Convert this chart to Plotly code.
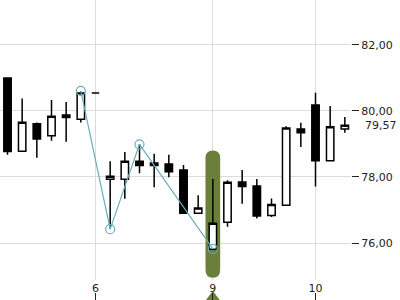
import plotly.graph_objects as go

idx = list(range(24))
opens  = [81.00, 78.78, 79.61, 79.25, 79.80, 79.75, 80.54, 77.93, 77.93, 78.48, 78.35, 78.39,
          78.21, 76.90, 75.81, 76.63, 77.85, 77.73, 76.83, 77.14, 79.45, 80.18, 78.49, 79.45]
highs  = [81.00, 80.38, 79.65, 80.33, 80.27, 80.59, 80.54, 78.48, 78.76, 79.00, 78.70, 78.67,
          78.36, 77.45, 77.94, 77.90, 78.21, 77.94, 77.35, 79.54, 79.64, 80.55, 80.15, 79.82]
lows   = [78.67, 78.78, 78.58, 79.10, 79.07, 79.65, 80.54, 76.43, 77.34, 78.11, 77.69, 77.99,
          76.90, 76.90, 75.81, 76.49, 77.19, 76.74, 76.79, 77.14, 78.91, 77.71, 78.48, 79.34]
closes = [78.77, 79.66, 79.15, 79.84, 79.88, 80.54, 80.54, 78.02, 78.48, 78.35, 78.42, 78.16,
          76.90, 77.06, 76.60, 77.84, 77.71, 76.82, 77.17, 79.48, 79.34, 78.49, 79.52, 79.57]

tick_idx = [6, 14, 21]
tick_text = ["6", "9", "10"]
y_ticks = [76, 78, 80, 82]

zz_idx = [5, 7, 9, 14]
zz_val = [80.61, 76.42, 78.99, 75.82]

hl_idx = 14
hl_pad = 0.86
last_val = closes[-1]

OLIVE = "#6B7F3A"
TEAL = "#6AAFB8"
GRID = "#DCDCDC"

fig = go.Figure()

fig.add_trace(go.Scatter(
    x=zz_idx, y=zz_val, mode="lines+markers",
    line=dict(color=TEAL, width=1.2),
    marker=dict(symbol="circle-open", size=9, color=TEAL, line=dict(width=1.2)),
    showlegend=False, hoverinfo="skip"))

fig.add_trace(go.Candlestick(
    x=idx, open=opens, high=highs, low=lows, close=closes,
    increasing=dict(fillcolor="white", line=dict(color="black", width=1.5)),
    decreasing=dict(fillcolor="black", line=dict(color="black", width=1.5)),
    showlegend=False))

# marker under the highlighted label
fig.add_trace(go.Scatter(
    x=[hl_idx], y=[0], xaxis="x2", yaxis="y2", mode="markers",
    marker=dict(symbol="triangle-up", size=18, color=OLIVE),
    cliponaxis=False, showlegend=False, hoverinfo="skip"))

# rounded highlight around candle
x0, x1 = hl_idx - 0.5, hl_idx + 0.5
y0, y1 = lows[hl_idx] - hl_pad, highs[hl_idx] + hl_pad
ry = 0.23
xc = hl_idx
path = (f"M {x0},{y0+ry} L {x0},{y1-ry} Q {x0},{y1} {xc},{y1} Q {x1},{y1} {x1},{y1-ry} "
        f"L {x1},{y0+ry} Q {x1},{y0} {xc},{y0} Q {x0},{y0} {x0},{y0+ry} Z")
fig.add_shape(type="path", path=path, xref="x", yref="y", fillcolor=OLIVE,
              line=dict(width=0), layer="between")

fig.add_annotation(x=1, y=last_val, xref="paper", yref="y",
                   text=f"{last_val:.2f}".replace(".", ","),
                   showarrow=False, xanchor="left", yanchor="middle", xshift=12,
                   font=dict(family="DejaVu Sans", size=11, color="#222"))

fig.update_layout(
    width=400, height=300,
    margin=dict(l=0, r=49, t=0, b=0),
    paper_bgcolor="white", plot_bgcolor="white",
    separators=",.",
    boxgap=0.28,
    font=dict(family="DejaVu Sans", size=11, color="#222"),
    xaxis=dict(range=[-0.511, 23.42], tickvals=tick_idx, ticktext=tick_text,
               showgrid=True, gridcolor=GRID, gridwidth=1, zeroline=False, showline=False,
               ticks="", rangeslider=dict(visible=False), fixedrange=True),
    xaxis2=dict(matches="x", overlaying="x", anchor="free", position=0, tickvals=tick_idx,
                ticks="inside", ticklen=7, tickcolor="#222", showticklabels=False,
                showgrid=False, zeroline=False, showline=False),
    yaxis=dict(domain=[0.0667, 1], range=[74.88, 83.36], side="right", tickvals=y_ticks,
               tickformat=".2f", ticks="outside", ticklen=7, tickcolor="#222",
               showgrid=True, gridcolor=GRID, gridwidth=1, zeroline=False, showline=False),
    yaxis2=dict(domain=[0, 0.0667], range=[0, 1], visible=False),
)

fig.write_html("out.html")
